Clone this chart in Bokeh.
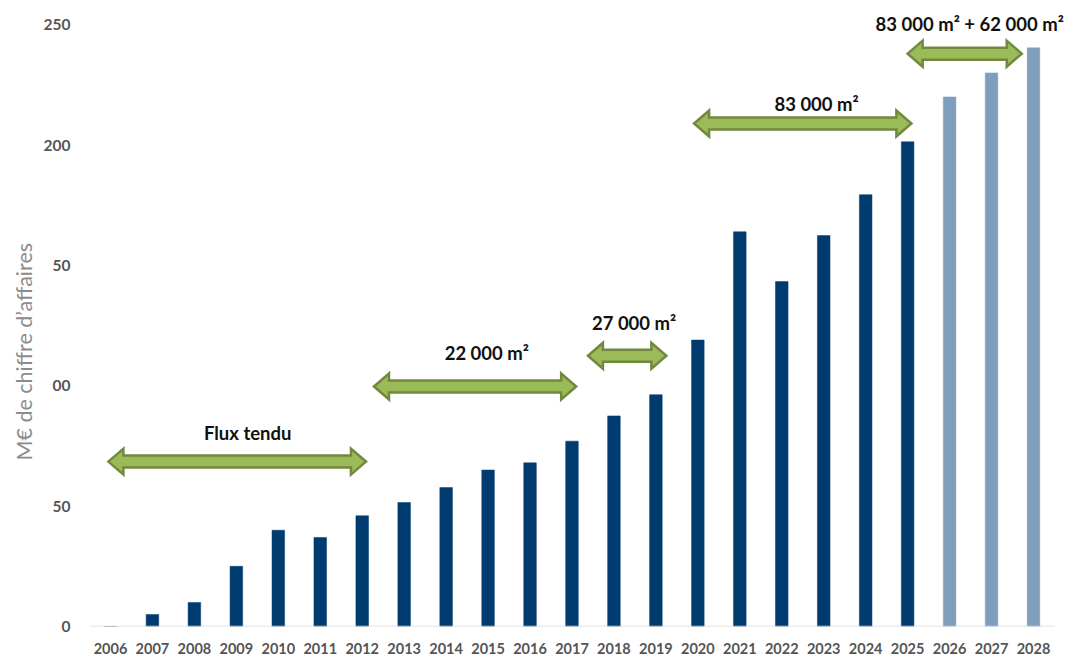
from bokeh.plotting import figure
from bokeh.models import ColumnDataSource, FixedTicker, Range1d, LabelSet, Title
from bokeh.core.properties import value
from bokeh.embed import file_html
from bokeh.resources import INLINE

# ---- data ----
years = list(range(2006, 2029))
revenue = [0, 5, 10, 25, 40, 37, 46, 51.5, 57.7, 65, 68, 77, 87.5, 96.3, 119, 164,
           143.3, 162.4, 179.4, 201.4, 220, 230, 240.4]
forecast_from = 2026

ytick_values = [0, 50, 100, 150, 200, 250]
ytick_labels = ["0", "50", "00", "50", "200", "250"]

arrow_start = [2005.95, 2012.28, 2017.38, 2019.91, 2025.0]
arrow_end = [2012.09, 2017.10, 2019.25, 2025.09, 2027.72]
arrow_y = [68.5, 99.7, 112.5, 209.0, 238.0]
label_x = [2009.27, 2014.97, 2018.48, 2022.83, 2026.48]
label_y = [80.5, 113.5, 126.0, 217.0, 250.5]
label_text = ["Flux tendu", "22 000 m²", "27 000 m²", "83 000 m²", "83 000 m² + 62 000 m²"]
y_title = "M€ de chiffre d’affaires"

# ---- styling ----
DARK = "#003b6f"
LIGHT = "#7f9ebc"
colors = [DARK if y < forecast_from else LIGHT for y in years]

W, H = 1078, 657
PX_PER_YEAR = (1053 - 89) / 23.0
x_lo = years[0] - 0.5
x_hi = years[-1] + 0.5
p = figure(width=W, height=H, output_backend="svg", toolbar_location=None,
           x_range=Range1d(x_lo, x_hi + 24 / PX_PER_YEAR), y_range=Range1d(0, 258),
           min_border_left=89, min_border_right=0, min_border_top=5, min_border_bottom=31)
p.outline_line_color = None
p.xgrid.grid_line_color = None
p.ygrid.grid_line_color = None
p.background_fill_color = "white"

src = ColumnDataSource(dict(x=years, top=revenue, color=colors))
p.vbar(x="x", top="top", width=0.30, fill_color="color", line_color="color",
       line_width=0.5, source=src)

# baseline (category axis line) spanning only the category band
p.segment(x0=[x_lo], y0=[0], x1=[x_hi], y1=[0], line_color="#d9d9d9", line_width=1.5)

# pixel scales for arrow shapes
sx = PX_PER_YEAR
sy = (626 - 5) / 258.0
hs, hh, hl = 6.0, 13.0, 15.0
xs_list, ys_list = [], []
for x0, x1, y in zip(arrow_start, arrow_end, arrow_y):
    dl = hl / sx
    a, b = hs / sy, hh / sy
    xs_list.append([x0, x0 + dl, x0 + dl, x1 - dl, x1 - dl, x1, x1 - dl, x1 - dl, x0 + dl, x0 + dl])
    ys_list.append([y, y + b, y + a, y + a, y + b, y, y - b, y - a, y - a, y - b])
p.patches(xs_list, ys_list, fill_color="#9bbb59", line_color="#71893f", line_width=2.5,
          line_join="miter")

lsrc = ColumnDataSource(dict(x=label_x, y=label_y, t=label_text))
p.add_layout(LabelSet(x="x", y="y", text="t", source=lsrc, text_font=value("Lato"),
                      text_font_style="bold", text_font_size="18.5px", text_color="#111111",
                      text_align="center", text_baseline="middle"))

# axes
xa = p.xaxis[0]
xa.ticker = FixedTicker(ticks=years)
xa.axis_line_color = None
xa.major_tick_line_color = None
xa.minor_tick_line_color = None
xa.major_label_text_font = "Lato"
xa.major_label_text_font_style = "bold"
xa.major_label_text_font_size = "14.5px"
xa.major_label_text_color = "#555555"
xa.major_label_standoff = 10

ya = p.yaxis[0]
ya.ticker = FixedTicker(ticks=ytick_values)
ya.major_label_overrides = {v: t for v, t in zip(ytick_values, ytick_labels)}
ya.axis_line_color = None
ya.major_tick_line_color = None
ya.minor_tick_line_color = None
ya.major_label_text_font = "Lato"
ya.major_label_text_font_style = "bold"
ya.major_label_text_font_size = "15.5px"
ya.major_label_text_color = "#555555"
ya.major_label_standoff = 13

t = Title(text=y_title, align="left", offset=166, text_font="Lato",
          text_font_style="normal", text_font_size="21.5px", text_color="#8c8c8c",
          standoff=7)
p.add_layout(t, "left")

open("out.html", "w").write(file_html(p, INLINE))
